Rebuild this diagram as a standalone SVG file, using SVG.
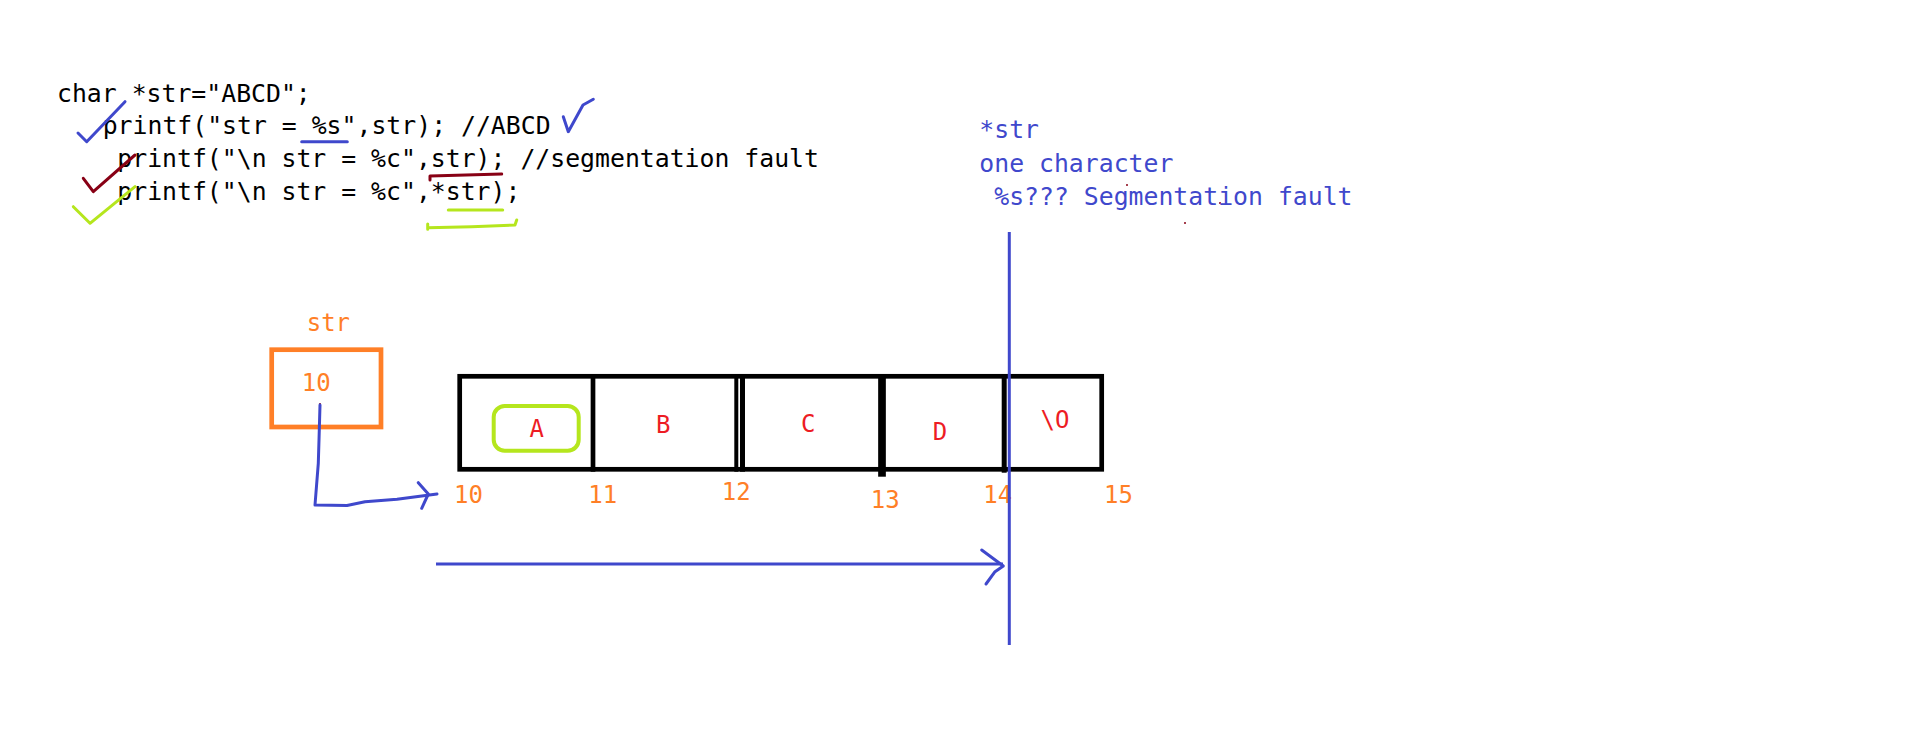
<svg xmlns="http://www.w3.org/2000/svg" width="1914" height="734" viewBox="0 0 1914 734">
<style>
.code{font-family:"DejaVu Sans Mono","Liberation Mono",monospace;font-size:24.8px;fill:#000}
.note{font-family:"DejaVu Sans Mono","Liberation Mono",monospace;font-size:24.8px;fill:#3F48CC}
.num{font-family:"DejaVu Sans Mono","Liberation Mono",monospace;font-size:24px;fill:#FF7F27}
.ch{font-family:"DejaVu Sans Mono","Liberation Mono",monospace;font-size:24px;fill:#ED1C24;text-anchor:middle}
.blue{stroke:#3F48CC;fill:none;stroke-width:3;stroke-linecap:round;stroke-linejoin:round}
.dred{stroke:#880015;fill:none;stroke-width:3;stroke-linecap:round;stroke-linejoin:round}
.lime{stroke:#B5E61D;fill:none;stroke-width:3;stroke-linecap:round;stroke-linejoin:round}
.cell{stroke:#000;fill:none}
</style>
<rect width="1914" height="734" fill="#fff"/>
<g id="code">
<text class="code" x="57" y="101.7" xml:space="preserve">char *str="ABCD";</text>
<text class="code" x="102.7" y="134" xml:space="preserve">printf("str = %s",str); //ABCD</text>
<text class="code" x="117.3" y="167.3" xml:space="preserve">printf("\n str = %c",str); //segmentation fault</text>
<text class="code" x="117.3" y="200" xml:space="preserve">printf("\n str = %c",*str);</text>
</g>
<g id="annotations">
<path class="blue" d="M78,133 L86.7,141.7 L125,101.7"/>
<path class="blue" d="M301.7,141.7 L347.3,141.7"/>
<path class="blue" d="M563.3,116.7 L568.3,131.7 L583,105 L593.3,99.3"/>
<path class="dred" d="M83.3,178.3 L93.3,191.7 L135,155"/>
<path class="dred" d="M430,180 L430,176 L501.7,174"/>
<path class="lime" d="M73.3,206.7 L90,223.3 L135,186.7"/>
<path class="lime" d="M448.3,210 L502.7,210"/>
<path class="lime" d="M427.7,224 L427.7,229.3 M427.7,227.7 L471.7,226.7 L515,225 L516.7,220"/>
<circle cx="1127" cy="185" r="1" fill="#880015"/>
<circle cx="1220" cy="203" r="1" fill="#880015"/>
<circle cx="1185" cy="223" r="1" fill="#880015"/>
</g>
<g id="note">
<text class="note" x="979.3" y="138.3" xml:space="preserve">*str</text>
<text class="note" x="979.3" y="171.7" xml:space="preserve">one character</text>
<text class="note" x="979.3" y="205" xml:space="preserve"> %s??? Segmentation fault</text>
</g>
<g id="str-node">
<text class="num" x="306.7" y="330.7">str</text>
<rect x="271.7" y="349.7" width="109.3" height="77.3" fill="none" stroke="#FF7F27" stroke-width="4.7"/>
<text class="num" x="301.7" y="390.7">10</text>
<circle cx="320" cy="404" r="1" fill="#880015"/>
</g>
<g id="array">
<rect class="cell" x="459.7" y="376.3" width="642" height="93" stroke-width="4.7"/>
<line class="cell" x1="593" y1="374" x2="593" y2="471.7" stroke-width="4.7"/>
<line class="cell" x1="736.3" y1="374" x2="736.3" y2="471.7" stroke-width="4"/>
<line class="cell" x1="742.5" y1="374" x2="742.5" y2="471.7" stroke-width="5"/>
<line class="cell" x1="882" y1="374" x2="882" y2="476.7" stroke-width="7.7"/>
<line class="cell" x1="1004.2" y1="374" x2="1004.2" y2="472.7" stroke-width="5"/>
<rect x="493.7" y="406" width="85" height="44.7" rx="11" fill="none" stroke="#B5E61D" stroke-width="4"/>
<text class="ch" x="536.7" y="436.7">A</text>
<text class="ch" x="663.3" y="433.3">B</text>
<text class="ch" x="808.3" y="431.7">C</text>
<text class="ch" x="940" y="440">D</text>
<text class="ch" x="1055" y="428.3">\O</text>
</g>
<g id="addresses">
<text class="num" x="454" y="503.3">10</text>
<text class="num" x="588.3" y="503.3">11</text>
<text class="num" x="721.7" y="500">12</text>
<text class="num" x="870.7" y="508.3">13</text>
<text class="num" x="983.3" y="502.7">14</text>
<text class="num" x="1104" y="502.7">15</text>
</g>
<g id="connectors">
<path class="blue" d="M320,405 L319,440 L318.3,463.3 L315,505 L347,505.5 L365,501.7 L397,499.3 L437,494"/>
<path class="blue" d="M418.3,482.7 L428.3,494 L421.7,508.3" stroke-width="3.5"/>
<line x1="1009.3" y1="232" x2="1009.3" y2="645" stroke="#3F48CC" stroke-width="3"/>
<line x1="436" y1="564" x2="1003" y2="564" stroke="#3F48CC" stroke-width="3"/>
<path class="blue" d="M981.7,550 L1003.3,566 L995,571.7 L986,584" stroke-width="3.5"/>
</g>
</svg>
